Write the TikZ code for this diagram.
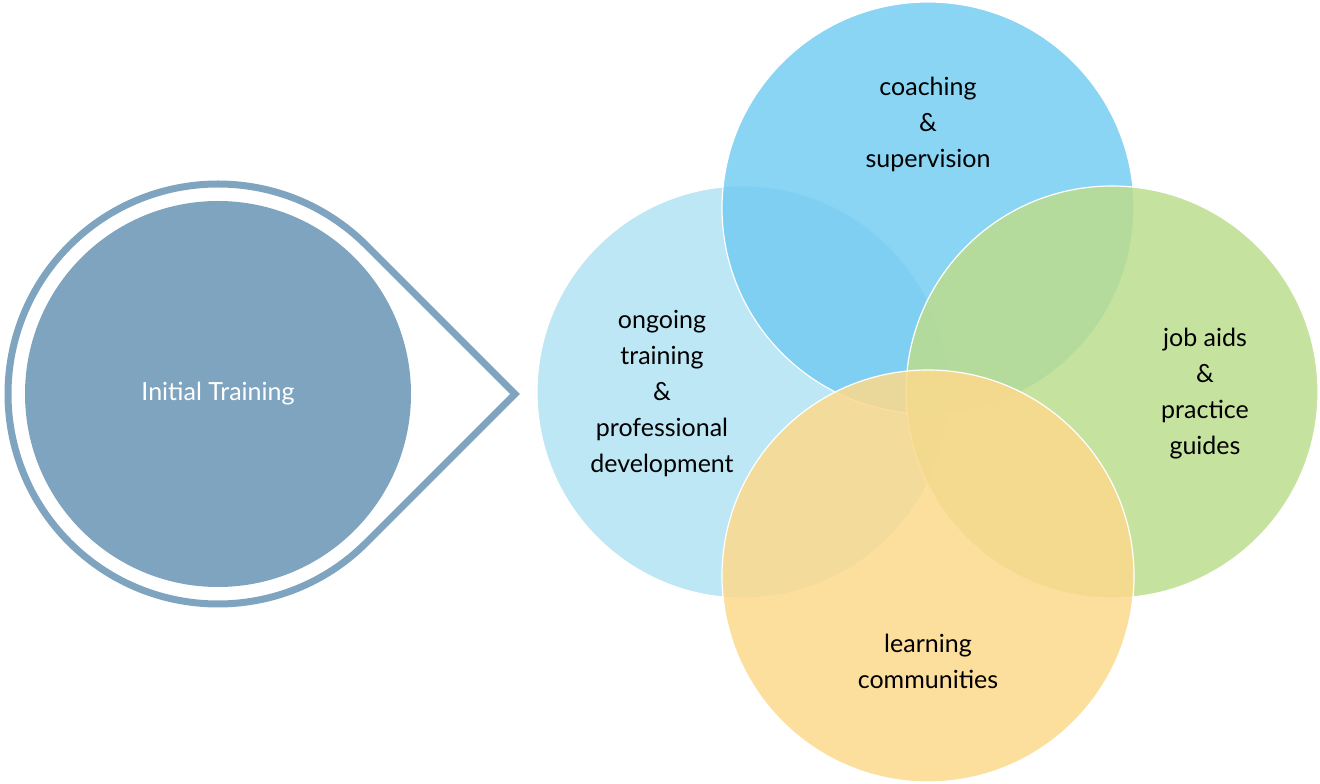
\documentclass[tikz,border=0pt]{standalone}
\usepackage{fontspec}
\setmainfont{Lato}
\usetikzlibrary{calc}
\definecolor{tblue}{HTML}{75CCF2}
\definecolor{lblue}{HTML}{B2E3F3}
\definecolor{lgreen}{HTML}{BCDD8E}
\definecolor{lyellow}{HTML}{FDD98C}
\definecolor{slate}{HTML}{7FA4BF}
\begin{document}
\begin{tikzpicture}[x=1pt,y=1pt,
  venn/.style={circle,minimum size=412pt,inner sep=0pt,draw=white,line width=1.2pt,fill opacity=0.85},
  lbl/.style={font=\fontsize{25}{36}\selectfont,align=center,text=black}]
\useasboundingbox (0,0) rectangle (1320,784);
\coordinate (c) at (218,390);
\draw[slate,line width=7pt,line join=miter] (515,390) -- ($(c)+(45:210)$) arc[start angle=45,end angle=315,radius=210] -- cycle;
\node[circle,fill=slate,minimum size=386pt,inner sep=0pt] (init) at (c) {};
\node[lbl,text=white] at (init) {Initial Training};
\node[venn,fill=lblue] (left) at (743,392) {};
\node[venn,fill=tblue] (top) at (928,576) {};
\node[venn,fill=lgreen] (right) at (1112,392) {};
\node[venn,fill=lyellow] (bottom) at (928,208) {};
\node[lbl] at (928,660) {coaching\\\&\\supervision};
\node[lbl] at (662,390) {ongoing\\training\\\&\\professional\\development};
\node[lbl] at (1205,390) {job aids\\\&\\practice\\guides};
\node[lbl] at (928,123) {learning\\communities};
\end{tikzpicture}
\end{document}
